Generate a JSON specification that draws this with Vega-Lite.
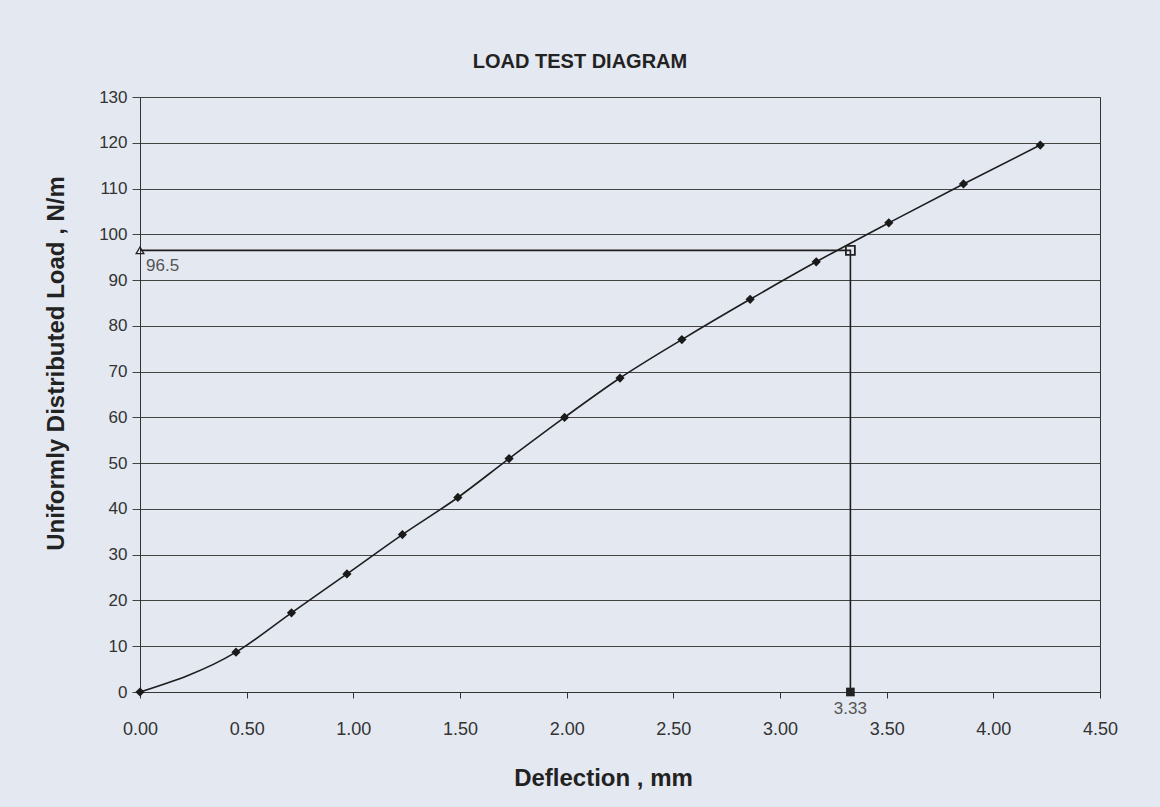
{
  "$schema": "https://vega.github.io/schema/vega-lite/v6.json",
  "width": 960,
  "height": 595,
  "autosize": "none",
  "padding": {"left": 140, "top": 97, "right": 60, "bottom": 115},
  "background": "#e4e8f1",
  "title": {"text": "LOAD TEST DIAGRAM", "font": "Liberation Sans", "fontSize": 20, "fontWeight": "bold", "color": "#222222", "dx": -40, "offset": 16, "anchor": "middle"},
  "config": {"view": {"stroke": "#333333", "strokeWidth": 1}, "font": "Liberation Sans"},
  "datasets": {
    "test": [
      {"deflection": 0.0, "load": 0.0},
      {"deflection": 0.45, "load": 8.7},
      {"deflection": 0.71, "load": 17.3},
      {"deflection": 0.97, "load": 25.8},
      {"deflection": 1.23, "load": 34.4},
      {"deflection": 1.49, "load": 42.5},
      {"deflection": 1.73, "load": 51.0},
      {"deflection": 1.99, "load": 60.0},
      {"deflection": 2.25, "load": 68.6},
      {"deflection": 2.54, "load": 77.0},
      {"deflection": 2.86, "load": 85.8},
      {"deflection": 3.17, "load": 94.0},
      {"deflection": 3.51, "load": 102.5},
      {"deflection": 3.86, "load": 111.0},
      {"deflection": 4.22, "load": 119.5}
    ],
    "ref": [
      {"deflection": 0.0, "load": 96.5, "step": 1, "kind": "start"},
      {"deflection": 3.33, "load": 96.5, "step": 2, "kind": "corner"},
      {"deflection": 3.33, "load": 0.0, "step": 3, "kind": "end"}
    ]
  },
  "layer": [
    {
      "data": {"name": "test"},
      "mark": {"type": "line", "color": "#1e1e1e", "strokeWidth": 1.6, "interpolate": "monotone"},
      "encoding": {
        "x": {
          "field": "deflection", "type": "quantitative",
          "scale": {"domain": [0, 4.5], "nice": false, "zero": false},
          "axis": {
            "title": "Deflection , mm",
            "values": [0, 0.5, 1, 1.5, 2, 2.5, 3, 3.5, 4, 4.5],
            "format": ".2f", "grid": false, "tickSize": 6, "tickColor": "#333333", "domainColor": "#333333",
            "labelPadding": 22, "labelFontSize": 18, "labelColor": "#333333", "labelFlush": false, "labelOverlap": false,
            "titleFontSize": 24, "titleFontWeight": "bold", "titleColor": "#222222", "titlePadding": 28, "titleX": 463
          }
        },
        "y": {
          "field": "load", "type": "quantitative",
          "scale": {"domain": [0, 130], "nice": false},
          "axis": {
            "title": "Uniformly Distributed Load , N/m",
            "values": [0, 10, 20, 30, 40, 50, 60, 70, 80, 90, 100, 110, 120, 130],
            "grid": true, "gridColor": "#444444", "gridWidth": 1, "tickSize": 8, "tickColor": "#444444", "domainColor": "#333333",
            "labelPadding": 5, "labelFontSize": 17, "labelColor": "#333333", "labelFlush": false,
            "titleFontSize": 24, "titleFontWeight": "bold", "titleColor": "#222222", "titlePadding": 30, "titleY": 266
          }
        }
      }
    },
    {
      "data": {"name": "test"},
      "mark": {"type": "point", "shape": "diamond", "filled": true, "color": "#1a1a1a", "size": 85, "opacity": 1},
      "encoding": {
        "x": {"field": "deflection", "type": "quantitative"},
        "y": {"field": "load", "type": "quantitative"}
      }
    },
    {
      "data": {"name": "ref"},
      "mark": {"type": "line", "color": "#1e1e1e", "strokeWidth": 1.6},
      "encoding": {
        "x": {"field": "deflection", "type": "quantitative"},
        "y": {"field": "load", "type": "quantitative"},
        "order": {"field": "step", "type": "quantitative"}
      }
    },
    {
      "data": {"name": "ref"},
      "transform": [{"filter": "datum.kind === 'start'"}],
      "mark": {"type": "point", "shape": "triangle-up", "filled": false, "color": "#222222", "strokeWidth": 1.3, "size": 60, "opacity": 1},
      "encoding": {
        "x": {"field": "deflection", "type": "quantitative"},
        "y": {"field": "load", "type": "quantitative"}
      }
    },
    {
      "data": {"name": "ref"},
      "transform": [{"filter": "datum.kind === 'corner'"}],
      "mark": {"type": "point", "shape": "square", "filled": false, "color": "#222222", "strokeWidth": 1.8, "size": 80, "opacity": 1},
      "encoding": {
        "x": {"field": "deflection", "type": "quantitative"},
        "y": {"field": "load", "type": "quantitative"}
      }
    },
    {
      "data": {"name": "ref"},
      "transform": [{"filter": "datum.kind === 'end'"}],
      "mark": {"type": "point", "shape": "square", "filled": true, "color": "#222222", "size": 75, "opacity": 1},
      "encoding": {
        "x": {"field": "deflection", "type": "quantitative"},
        "y": {"field": "load", "type": "quantitative"}
      }
    },
    {
      "data": {"name": "ref"},
      "transform": [{"filter": "datum.kind === 'start'"}],
      "mark": {"type": "text", "align": "left", "baseline": "middle", "dx": 6, "dy": 16, "fontSize": 17, "color": "#555555", "font": "Liberation Sans"},
      "encoding": {
        "x": {"field": "deflection", "type": "quantitative"},
        "y": {"field": "load", "type": "quantitative"},
        "text": {"field": "load", "type": "quantitative", "format": ".1f"}
      }
    },
    {
      "data": {"name": "ref"},
      "transform": [{"filter": "datum.kind === 'end'"}],
      "mark": {"type": "text", "align": "center", "baseline": "middle", "dy": 17, "fontSize": 17, "color": "#555555", "font": "Liberation Sans"},
      "encoding": {
        "x": {"field": "deflection", "type": "quantitative"},
        "y": {"field": "load", "type": "quantitative"},
        "text": {"field": "deflection", "type": "quantitative", "format": ".2f"}
      }
    }
  ]
}
